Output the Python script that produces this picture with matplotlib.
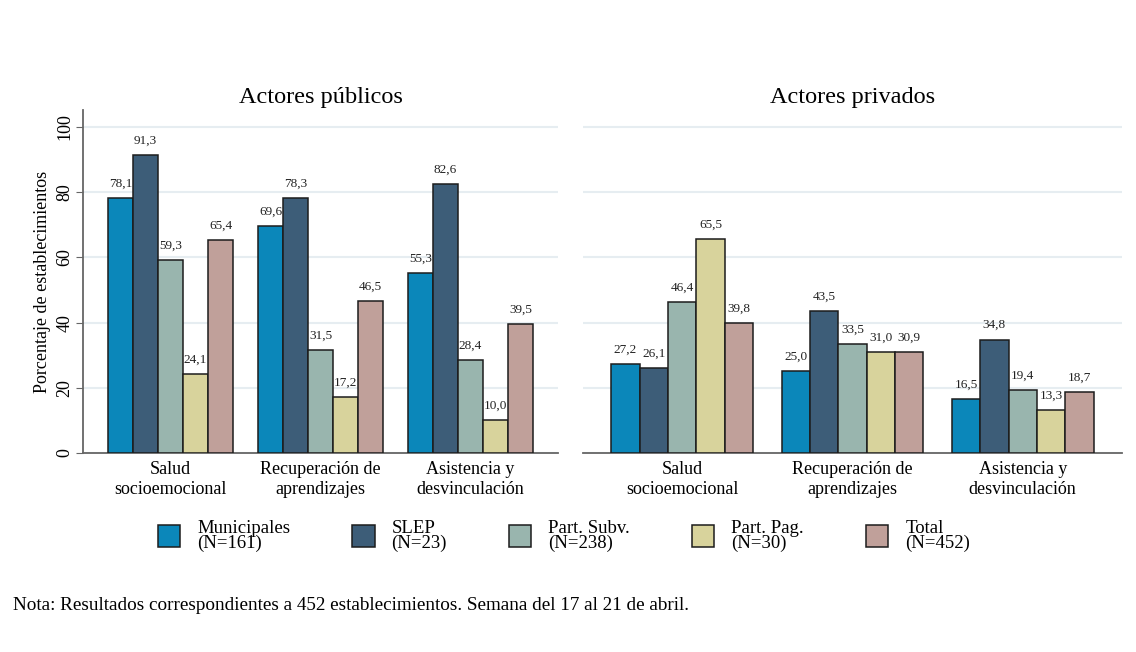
import numpy as np
import matplotlib
matplotlib.use("Agg")
import matplotlib.pyplot as plt

plt.rcParams['font.family'] = ['Liberation Serif', 'DejaVu Serif']

# datos
categorias = ["Salud\nsocioemocional", "Recuperación de\naprendizajes", "Asistencia y\ndesvinculación"]
series = ["Municipales\n(N=161)", "SLEP\n(N=23)", "Part. Subv.\n(N=238)", "Part. Pag.\n(N=30)", "Total\n(N=452)"]
colores = ["#0b87ba", "#3d5d78", "#99b5ae", "#d8d39c", "#c0a09a"]

# filas = series, columnas = categorias
publicos = [
    [78.1, 69.6, 55.3],
    [91.3, 78.3, 82.6],
    [59.3, 31.5, 28.4],
    [24.1, 17.2, 10.0],
    [65.4, 46.5, 39.5],
]
privados = [
    [27.2, 25.0, 16.5],
    [26.1, 43.5, 34.8],
    [46.4, 33.5, 19.4],
    [65.5, 31.0, 13.3],
    [39.8, 30.9, 18.7],
]
titulos = ["Actores públicos", "Actores privados"]

fig = plt.figure(figsize=(11.36, 6.52), dpi=100)
ax1 = fig.add_axes([83/1136, 1-453/652, (558-83)/1136, (453-110)/652])
ax2 = fig.add_axes([583/1136, 1-453/652, (1122-583)/1136, (453-110)/652])

def dibujar(ax, datos, titulo, eje_y=True):
    n_cat = len(categorias)
    for i, vals in enumerate(datos):
        x = np.arange(n_cat) * 6 + 1.5 + i
        bars = ax.bar(x, vals, width=1.0, color=colores[i], edgecolor="#1c1c1c",
                      linewidth=1.1, label=series[i], zorder=3)
        for b, v in zip(bars, vals):
            ax.annotate("{:.1f}".format(v).replace(".", ","),
                        (b.get_x() + b.get_width()/2, v), xytext=(0, 6),
                        textcoords="offset points", ha="center", va="bottom",
                        fontsize=9.5, color="#222222")
    ax.set_xlim(0, 19)
    ax.set_ylim(0, 105.2)
    ax.set_xticks(np.arange(n_cat) * 6 + 3.5)
    ax.set_xticklabels(categorias, fontsize=13, linespacing=1.2)
    ax.tick_params(axis="x", length=0, pad=6)
    ax.set_yticks([0, 20, 40, 60, 80, 100])
    ax.yaxis.grid(True, color="#e6edf1", linewidth=1.5, zorder=0)
    ax.set_axisbelow(True)
    for s in ["top", "right"]:
        ax.spines[s].set_visible(False)
    ax.spines["bottom"].set_color("#666666")
    ax.spines["bottom"].set_linewidth(1.3)
    ax.set_title(titulo, fontsize=17.5, pad=5)
    if eje_y:
        ax.spines["left"].set_color("#666666")
        ax.spines["left"].set_linewidth(1.3)
        ax.tick_params(axis="y", length=5, color="#666666", labelsize=13, pad=2)
        plt.setp(ax.get_yticklabels(), rotation=90, va="center")
        ax.set_ylabel("Porcentaje de establecimientos", fontsize=13, labelpad=4)
    else:
        ax.spines["left"].set_visible(False)
        ax.tick_params(axis="y", length=0, labelleft=False)

dibujar(ax1, publicos, titulos[0])
dibujar(ax2, privados, titulos[1], eje_y=False)

handles, labels = ax1.get_legend_handles_labels()
leg = fig.legend(handles, labels, ncol=5, loc="center", bbox_to_anchor=(564/1136, 1-536/652),
                 frameon=False, fontsize=13.5, handlelength=1.2, handleheight=1.4,
                 handletextpad=0.9, columnspacing=3.3)
for t in leg.get_texts():
    t.set_linespacing(0.9)

fig.text(13/1136, 1-605/652, "Nota: Resultados correspondientes a 452 establecimientos. Semana del 17 al 21 de abril.",
         fontsize=13.8, va="center", ha="left")

fig.savefig("out.png", dpi=100, facecolor="white")
